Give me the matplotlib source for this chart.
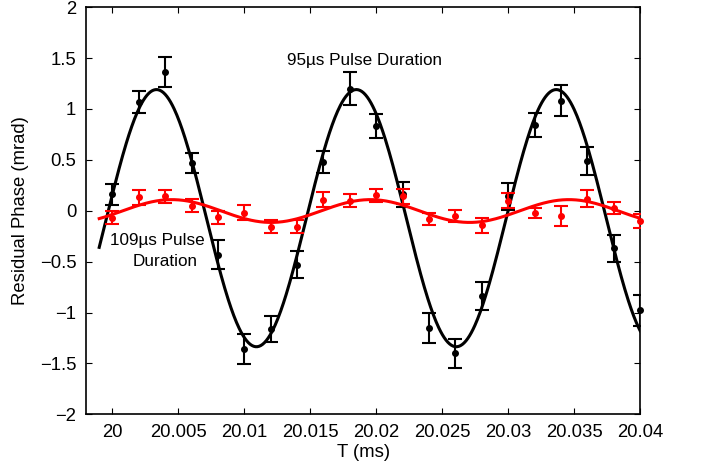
import numpy as np
import matplotlib
matplotlib.use("Agg")
import matplotlib.pyplot as plt

plt.rcParams['font.family'] = ['Liberation Sans', 'DejaVu Sans']

# measurement times (ms)
t = [20.000, 20.002, 20.004, 20.006, 20.008, 20.010, 20.012, 20.014,
     20.016, 20.018, 20.020, 20.022, 20.024, 20.026, 20.028, 20.030,
     20.032, 20.034, 20.036, 20.038, 20.040]

# 95 us pulse duration (black)
phase_95 = [0.16, 1.07, 1.36, 0.47, -0.43, -1.36, -1.16, -0.53,
            0.48, 1.20, 0.83, 0.16, -1.15, -1.40, -0.84, 0.14,
            0.84, 1.08, 0.49, -0.37, -0.98]
err_95 = [0.10, 0.11, 0.145, 0.10, 0.14, 0.145, 0.13, 0.13,
          0.11, 0.16, 0.12, 0.12, 0.15, 0.14, 0.14, 0.13,
          0.12, 0.15, 0.14, 0.13, 0.15]

# 109 us pulse duration (red)
phase_109 = [-0.07, 0.13, 0.14, 0.05, -0.065, -0.02, -0.155, -0.155,
             0.11, 0.10, 0.15, 0.14, -0.08, -0.05, -0.145, 0.10,
             -0.02, -0.05, 0.12, 0.03, -0.10]
err_109 = [0.065, 0.07, 0.065, 0.065, 0.065, 0.075, 0.065, 0.065,
           0.07, 0.065, 0.06, 0.07, 0.06, 0.06, 0.07, 0.07,
           0.05, 0.10, 0.08, 0.06, 0.07]

# sinusoidal fit parameters: amplitude, period, time of maximum, offset
fit_95 = dict(amp=1.263, period=0.01515, t_max=20.00334, offset=-0.073)
fit_109 = dict(amp=0.112, period=0.01505, t_max=20.0045, offset=-0.003)
fit_range = (19.999, 20.040)


def sine_fit(tt, amp, period, t_max, offset):
    return amp * np.cos(2 * np.pi * (tt - t_max) / period) + offset


fig = plt.figure(figsize=(7.05, 4.73), dpi=100)
ax = fig.add_axes([0.122, 0.124, 0.786, 0.861])

tt = np.linspace(fit_range[0], fit_range[1], 600)

ax.plot(tt, sine_fit(tt, **fit_95), color='black', lw=2.2, zorder=2)
eb = ax.errorbar(t, phase_95, yerr=err_95, fmt='o', color='black', ms=4,
                 elinewidth=1.5, capsize=5, capthick=1.5, zorder=3)
eb[0].set_clip_on(False)  # dots at the right edge are not cut

ax.plot(tt, sine_fit(tt, **fit_109), color='#ff0000', lw=2.2, zorder=4)
eb = ax.errorbar(t, phase_109, yerr=err_109, fmt='o', color='#ff0000', ms=4,
                 elinewidth=1.5, capsize=5, capthick=1.5, zorder=5)
eb[0].set_clip_on(False)

ax.text(20.0191, 1.48, '95µs Pulse Duration', fontsize=12.3,
        ha='center', va='center')
ax.text(19.99982, -0.295, '109µs Pulse', fontsize=12.3, ha='left', va='center')
ax.text(20.00156, -0.50, 'Duration', fontsize=12.3, ha='left', va='center')

ax.set_xlim(19.998, 20.04)
ax.set_ylim(-2, 2)
ax.set_xticks([20, 20.005, 20.01, 20.015, 20.02, 20.025, 20.03, 20.035, 20.04])
ax.set_xticklabels(['20', '20.005', '20.01', '20.015', '20.02', '20.025',
                    '20.03', '20.035', '20.04'])
ax.set_yticks([-2, -1.5, -1, -0.5, 0, 0.5, 1, 1.5, 2])
ax.set_yticklabels(['\u22122', '\u22121.5', '\u22121', '\u22120.5', '0',
                    '0.5', '1', '1.5', '2'])
ax.tick_params(direction='in', top=True, right=True, length=4, width=0.8,
               labelsize=13.3, pad=7)
for s in ax.spines.values():
    s.set_linewidth(1.2)

ax.set_xlabel('T (ms)', fontsize=13.3, labelpad=2)
ax.set_ylabel('Residual Phase (mrad)', fontsize=13.3, labelpad=8)

fig.savefig('out.png', dpi=100)
